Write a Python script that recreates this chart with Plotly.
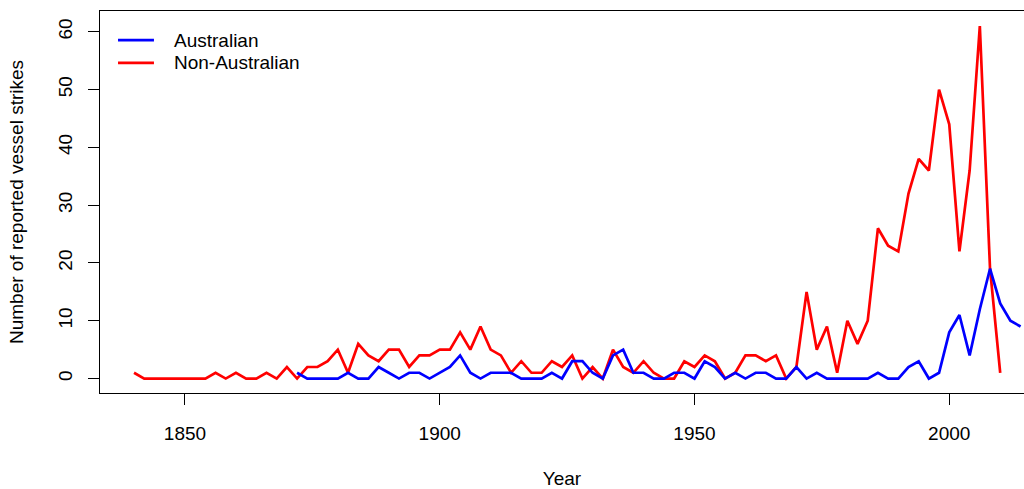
import plotly.graph_objects as go

# Reported vessel strikes, two-year bins
years_non_aus = list(range(1840, 2011, 2))
strikes_non_aus = [
    1, 0, 0, 0, 0, 0, 0, 0, 1, 0,   # 1840-1858
    1, 0, 0, 1, 0, 2, 0, 2, 2, 3,   # 1860-1878
    5, 1, 6, 4, 3, 5, 5, 2, 4, 4,   # 1880-1898
    5, 5, 8, 5, 9, 5, 4, 1, 3, 1,   # 1900-1918
    1, 3, 2, 4, 0, 2, 0, 5, 2, 1,   # 1920-1938
    3, 1, 0, 0, 3, 2, 4, 3, 0, 1,   # 1940-1958
    4, 4, 3, 4, 0, 2, 15, 5, 9, 1,  # 1960-1978
    10, 6, 10, 26, 23, 22, 32, 38, 36, 50,  # 1980-1998
    44, 22, 36, 61, 19, 1,          # 2000-2010
]

years_aus = list(range(1872, 2015, 2))
strikes_aus = [
    1, 0, 0, 0, 0, 1, 0, 0, 2, 1,   # 1872-1890
    0, 1, 1, 0, 1, 2, 4, 1, 0, 1,   # 1892-1910
    1, 1, 0, 0, 0, 1, 0, 3, 3, 1,   # 1912-1930
    0, 4, 5, 1, 1, 0, 0, 1, 1, 0,   # 1932-1950
    3, 2, 0, 1, 0, 1, 1, 0, 0, 2,   # 1952-1970
    0, 1, 0, 0, 0, 0, 0, 1, 0, 0,   # 1972-1990
    2, 3, 0, 1, 8, 11, 4, 12, 19, 13,  # 1992-2010
    10, 9,                          # 2012-2014
]

x_ticks = [1850, 1900, 1950, 2000]
y_ticks = [0, 10, 20, 30, 40, 50, 60]

FONT = "Liberation Sans, Arial, Helvetica, sans-serif"
FS = 19
TEXT_FONT = dict(family=FONT, size=FS, color="black")

fig = go.Figure()
fig.add_trace(go.Scatter(x=years_non_aus, y=strikes_non_aus, mode="lines",
                         name="Non-Australian",
                         line=dict(color="#ff0000", width=2.7)))
fig.add_trace(go.Scatter(x=years_aus, y=strikes_aus, mode="lines",
                         name="Australian",
                         line=dict(color="#0000ff", width=2.7)))

# hand-placed legend in the top-left corner of the panel
legend_rows = [("Australian", "#0000ff", 0.924), ("Non-Australian", "#ff0000", 0.864)]
for label, colour, ypos in legend_rows:
    fig.add_shape(type="line", xref="paper", yref="paper",
                  x0=0.0195, x1=0.0584, y0=ypos, y1=ypos,
                  line=dict(color=colour, width=2.7))
    fig.add_annotation(xref="paper", yref="paper", x=0.078, y=ypos,
                       text=label, showarrow=False, xanchor="left",
                       yanchor="middle", font=TEXT_FONT)

fig.update_layout(
    width=1024, height=489,
    margin=dict(l=100, r=0, t=11, b=96),
    paper_bgcolor="white", plot_bgcolor="white",
    showlegend=False,
    font=TEXT_FONT,
)
fig.update_xaxes(
    range=[1833.32, 2014.67], tickvals=x_ticks,
    ticks="outside", ticklen=11, tickwidth=1, tickcolor="black",
    ticklabelstandoff=12, tickfont=TEXT_FONT,
    showline=True, linecolor="black", linewidth=1, mirror=True,
    showgrid=False, zeroline=False,
    title=dict(text="Year", standoff=30, font=TEXT_FONT),
)
fig.update_yaxes(
    range=[-2.5, 63.6], tickvals=y_ticks, tickangle=-90,
    ticks="outside", ticklen=11, tickwidth=1, tickcolor="black",
    ticklabelstandoff=8, tickfont=TEXT_FONT,
    showline=True, linecolor="black", linewidth=1, mirror=False,
    showgrid=False, zeroline=False,
    title=dict(text="Number of reported vessel strikes", standoff=26,
               font=TEXT_FONT),
)

fig.write_html("out.html")
